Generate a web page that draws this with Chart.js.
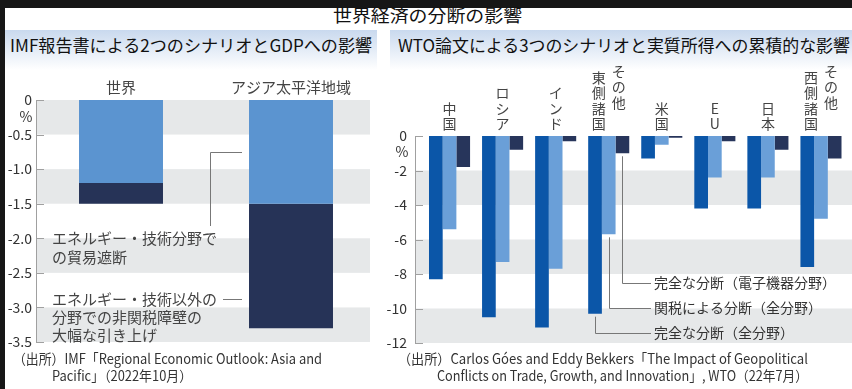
<!DOCTYPE html>
<html>
<head>
<meta charset="utf-8">
<script src="https://cdn.jsdelivr.net/npm/chart.js@4/dist/chart.umd.min.js"></script>
<style>
  body { margin: 0; width: 852px; height: 389px; overflow: hidden; background: #fff; position: relative;
         font-family: 'Noto Sans CJK JP', sans-serif; color: #222; }
  .frame-top { position: absolute; left: 0; top: 0; width: 852px; height: 8px; background: #161616; }
  .frame-left { position: absolute; left: 0; top: 0; width: 5px; height: 389px; background: #161616; }
  .txt { position: absolute; white-space: nowrap; display: inline-block; transform-origin: left center; }
  .head { position: absolute; top: 30px; height: 40px; background: linear-gradient(#c9d9ee, #ffffff); }
  canvas { position: absolute; top: 0; }
</style>
</head>
<body>
<div class="frame-top"></div>
<div class="frame-left"></div>
<div class="head" style="left:5px;width:372px"></div>
<div class="head" style="left:390px;width:462px"></div>

<div class="txt" data-w="189" style="left:333px;top:4px;font-size:17px;line-height:22px;color:#111">世界経済の分断の影響</div>
<div class="txt" data-w="362" style="left:10px;top:33px;font-size:17px;line-height:24px;color:#111">IMF報告書による2つのシナリオとGDPへの影響</div>
<div class="txt" data-w="452" style="left:398px;top:33px;font-size:17px;line-height:24px;color:#111">WTO論文による3つのシナリオと実質所得への累積的な影響</div>

<canvas id="left" width="380" height="389" style="left:0"></canvas>
<canvas id="right" width="472" height="389" style="left:380px"></canvas>

<div class="txt" data-w="309" style="left:13px;top:349px;font-size:14px;line-height:18px;color:#333">（出所）IMF「Regional Economic Outlook: Asia and</div>
<div class="txt" data-w="140" style="left:52px;top:366px;font-size:14px;line-height:18px;color:#333">Pacific」（2022年10月）</div>
<div class="txt" data-w="410" style="left:398px;top:349px;font-size:14px;line-height:18px;color:#333">（出所）Carlos Góes and Eddy Bekkers「The Impact of Geopolitical</div>
<div class="txt" data-w="371" style="left:437px;top:366px;font-size:14px;line-height:18px;color:#333">Conflicts on Trade, Growth, and Innovation」, WTO（22年7月）</div>

<script>
// 左: IMF
const leftCats = ['世界', 'アジア太平洋地域']
const leftEnergyTech = [-1.2, -1.5]
const leftNonTariff = [-0.3, -1.8]
const leftTicks = ['0', '-0.5', '-1.0', '-1.5', '-2.0', '-2.5', '-3.0', '-3.5']
const leftNotes = [['エネルギー・技術分野で', 'の貿易遮断'], ['エネルギー・技術以外の', '分野での非関税障壁の', '大幅な引き上げ']]

// 右: WTO
const rightCats = [['中国'], ['ロシア'], ['インド'], ['その他', '東側諸国'], ['米国'], ['EU'], ['日本'], ['その他', '西側諸国']]
const fullAll = [-8.3, -10.5, -11.1, -10.3, -1.3, -4.2, -4.2, -7.6]
const tariffAll = [-5.4, -7.3, -7.7, -5.7, -0.5, -2.4, -2.4, -4.8]
const fullElec = [-1.8, -0.8, -0.3, -1.0, -0.1, -0.3, -0.8, -1.3]
const rightTicks = ['0', '-2', '-4', '-6', '-8', '-10', '-12']
const seriesNames = ['完全な分断（全分野）', '関税による分断（全分野）', '完全な分断（電子機器分野）']

const FONT = "'Noto Sans CJK JP', sans-serif"
Chart.defaults.font.family = FONT
Chart.defaults.color = '#333'

// fit header / source texts to their widths
document.querySelectorAll('.txt[data-w]').forEach(el => {
    const w = el.getBoundingClientRect().width
    el.style.transform = `scaleX(${(+el.dataset.w / w).toFixed(3)})`
})

// gray bands, axis line with inner ticks, % sign
const frame = {
    id: 'frame',
    beforeDatasetsDraw(chart, args, o) {
        const { ctx, scales: { y } } = chart
        const ax = chart.chartArea.left - o.axisGap
        ctx.save()
        ctx.fillStyle = '#e6e8e9'
        o.bands.forEach(([a, b]) => {
            const y1 = y.getPixelForValue(a), y2 = y.getPixelForValue(b)
            ctx.fillRect(ax, y1, o.bandRight - ax, y2 - y1)
        })
        ctx.strokeStyle = '#a0a0a0'
        ctx.lineWidth = 1
        ctx.beginPath()
        ctx.moveTo(ax + 0.5, y.top)
        ctx.lineTo(ax + 0.5, y.bottom)
        y.ticks.forEach(t => {
            const py = Math.round(y.getPixelForValue(t.value)) + 0.5
            ctx.moveTo(ax, py)
            ctx.lineTo(ax + 8, py)
        })
        ctx.stroke()
        ctx.fillStyle = '#333'
        ctx.font = '14px ' + FONT
        ctx.textAlign = 'center'
        ctx.textBaseline = 'middle'
        ctx.fillText('%', o.pct[0], o.pct[1])
        ctx.restore()
    }
}

const leftExtras = {
    id: 'leftExtras',
    afterDatasetsDraw(chart) {
        const { ctx, scales: { x } } = chart
        ctx.save()
        ctx.fillStyle = '#444'
        ctx.font = '15px ' + FONT
        ctx.textAlign = 'center'
        ctx.textBaseline = 'middle'
        leftCats.forEach((c, i) => ctx.fillText(c, x.getPixelForValue(i), 87))

        const bar = chart.getDatasetMeta(0).data[1]
        const bl = bar.x - bar.width / 2 - 7
        const my = Math.round((bar.y + bar.base) / 2) + 0.5
        ctx.strokeStyle = '#777'
        ctx.lineWidth = 1
        ctx.beginPath()
        ctx.moveTo(bl, my); ctx.lineTo(210.5, my); ctx.lineTo(210.5, 226)
        ctx.moveTo(223, 299.5); ctx.lineTo(bl, 299.5)
        ctx.stroke()

        ctx.textAlign = 'left'
        ctx.fillStyle = '#444'
        leftNotes[0].forEach((l, i) => ctx.fillText(l, 52, 238 + i * 19))
        leftNotes[1].forEach((l, i) => ctx.fillText(l, 52, 299 + i * 18))
        ctx.restore()
    }
}

const rightExtras = {
    id: 'rightExtras',
    afterDatasetsDraw(chart) {
        const { ctx, scales: { x } } = chart
        ctx.save()
        ctx.fillStyle = '#444'
        ctx.font = '14px ' + FONT
        ctx.textAlign = 'center'
        ctx.textBaseline = 'middle'
        const pitch = 15.5
        rightCats.forEach((cols, i) => {
            const cx = x.getPixelForValue(i)
            if (cols.length === 1) {
                const chars = [...cols[0]]
                chars.forEach((ch, k) => ctx.fillText(ch, cx, 124 - (chars.length - 1 - k) * pitch))
            } else {
                const second = [...cols[1]], first = [...cols[0]]
                const top2 = 124 - (second.length - 1) * pitch
                second.forEach((ch, k) => ctx.fillText(ch, cx - 10, top2 + k * pitch))
                first.forEach((ch, k) => ctx.fillText(ch, cx + 10, top2 - 6 + k * pitch))
            }
        })

        // leaders from その他東側諸国 bars
        const tx = 274
        const ys = [333, 308, 283]
        ctx.strokeStyle = '#777'
        ctx.lineWidth = 1
        ctx.textAlign = 'left'
        ctx.fillStyle = '#333'
        seriesNames.forEach((name, d) => {
            const bar = chart.getDatasetMeta(d).data[3]
            const bx = Math.round(bar.x) + 0.5
            ctx.beginPath()
            ctx.moveTo(bx, bar.y + 3)
            ctx.lineTo(bx, ys[d] + 0.5)
            ctx.lineTo(tx - 3, ys[d] + 0.5)
            ctx.stroke()
            ctx.fillText(name, tx, ys[d])
        })
        ctx.restore()
    }
}

new Chart(document.getElementById('left'), {
    type: 'bar',
    data: {
        labels: leftCats,
        datasets: [
            { label: leftNotes[0].join(''), data: leftEnergyTech, backgroundColor: '#5b94d0' },
            { label: leftNotes[1].join(''), data: leftNonTariff, backgroundColor: '#263357' }
        ]
    },
    options: {
        responsive: false,
        animation: false,
        devicePixelRatio: 1,
        layout: { padding: { top: 100, right: 4, bottom: 47, left: 0 } },
        datasets: { bar: { barPercentage: 0.494, categoryPercentage: 1, borderWidth: 0 } },
        scales: {
            x: { stacked: true, display: false },
            y: {
                stacked: true, min: -3.5, max: 0,
                afterFit: s => { s.width = 36 },
                grid: { display: false, drawTicks: false },
                border: { display: false },
                ticks: { stepSize: 0.5, padding: 4, font: { size: 14 }, color: '#333',
                         callback: v => leftTicks[Math.round(-v / 0.5)] }
            }
        },
        plugins: {
            legend: { display: false }, tooltip: { enabled: false },
            frame: { axisGap: 0, bandRight: 370, pct: [26, 117],
                     bands: [[0, -0.5], [-1, -1.5], [-2, -2.5], [-3, -3.5]] }
        }
    },
    plugins: [frame, leftExtras]
})

new Chart(document.getElementById('right'), {
    type: 'bar',
    data: {
        labels: rightCats.map(c => c.join('')),
        datasets: [
            { label: seriesNames[0], data: fullAll, backgroundColor: '#0b56a8' },
            { label: seriesNames[1], data: tariffAll, backgroundColor: '#6a9fd8' },
            { label: seriesNames[2], data: fullElec, backgroundColor: '#27355b' }
        ]
    },
    options: {
        responsive: false,
        animation: false,
        devicePixelRatio: 1,
        layout: { padding: { top: 136, right: 4.5, bottom: 46, left: 0 } },
        datasets: { bar: { barPercentage: 1, categoryPercentage: 0.774, borderWidth: 0 } },
        scales: {
            x: { display: false },
            y: {
                min: -12, max: 0,
                afterFit: s => { s.width = 43 },
                grid: { display: false, drawTicks: false },
                border: { display: false },
                ticks: { stepSize: 2, padding: 16, font: { size: 14 }, color: '#333',
                         callback: v => rightTicks[Math.round(-v / 2)] }
            }
        },
        plugins: {
            legend: { display: false }, tooltip: { enabled: false },
            frame: { axisGap: 8, bandRight: 472, pct: [22, 152],
                     bands: [[-2, -4], [-6, -8], [-10, -12]] }
        }
    },
    plugins: [frame, rightExtras]
})
</script>
</body>
</html>
